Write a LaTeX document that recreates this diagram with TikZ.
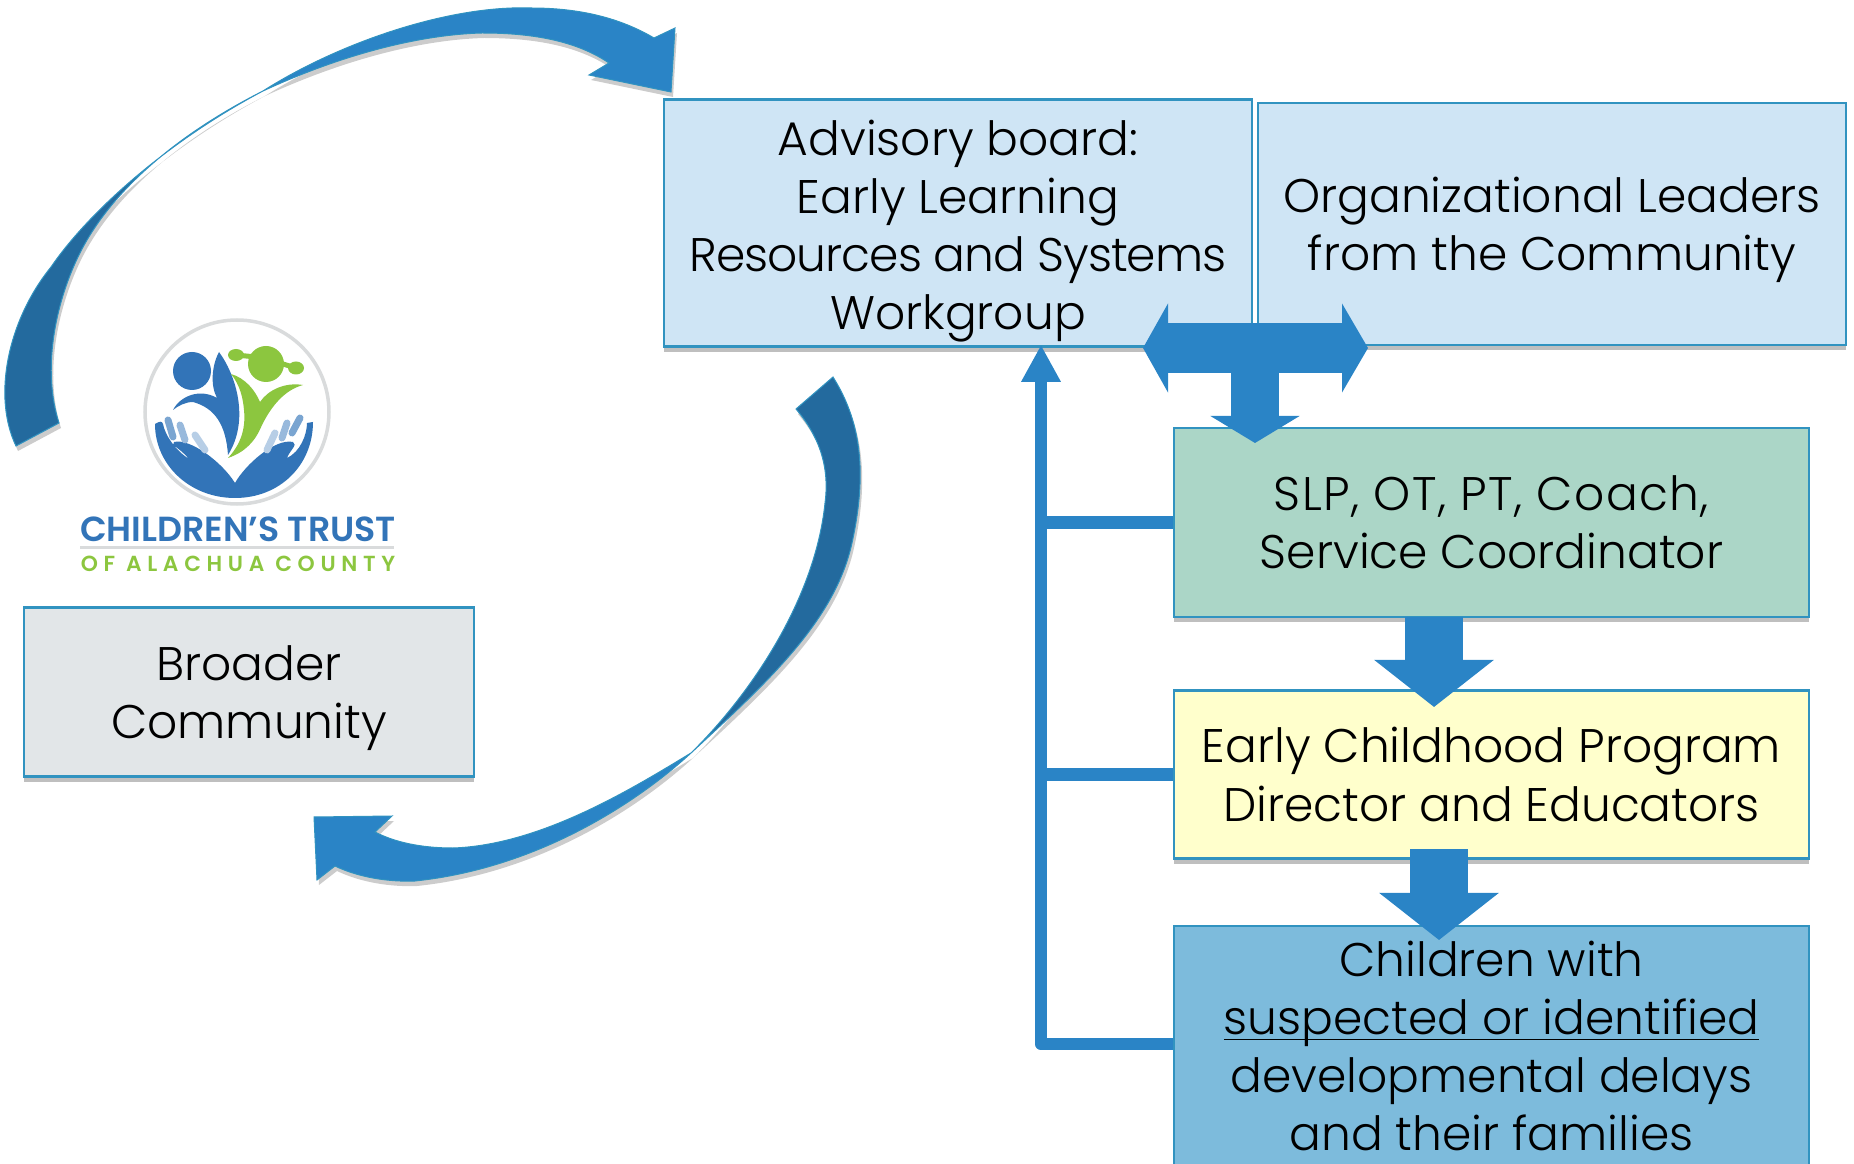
\documentclass[tikz,border=0pt]{standalone}
\usepackage{fontspec}
\setmainfont{Poppins Light}
\newfontfamily\logofont{Poppins}[UprightFont=* SemiBold]
\usetikzlibrary{arrows.meta,shadows}
\definecolor{barblue}{HTML}{2A84C6}
\definecolor{taildark}{HTML}{236A9E}
\definecolor{rimblue}{HTML}{3193C0}
\definecolor{logoblue}{HTML}{3274B8}
\definecolor{logogreen}{HTML}{8CC63F}
\definecolor{logogrey}{HTML}{D9DBDC}
\definecolor{board}{HTML}{CFE5F5}
\definecolor{slp}{HTML}{ABD6C7}
\definecolor{ecp}{HTML}{FFFFCC}
\definecolor{kids}{HTML}{7DBBDC}
\definecolor{broad}{HTML}{E2E6E8}
\tikzset{
  box/.style={draw=rimblue,line width=.025cm,align=center,inner sep=0pt,
    font=\fontsize{13.4}{16.5}\selectfont,
    drop shadow={shadow xshift=0cm,shadow yshift=-.05cm,opacity=.25,fill=black}},
  bus/.style={draw=barblue,line width=.125cm,line join=round},
  blockarrow/.style={draw=barblue,line width=.58cm,-{Triangle[length=.47cm,width=1.17cm,fill=barblue]}},
  curved/.style={line width=.01cm,draw=rimblue,
    drop shadow={shadow xshift=.02cm,shadow yshift=-.05cm,opacity=.2,fill=black}},
}
\begin{document}
\begin{tikzpicture}[x=.01cm,y=-.01cm]
\useasboundingbox (0,0) rectangle (1854,1164);
\clip (0,0) rectangle (1854,1164);
% upper curved arrow
\filldraw [curved,fill=barblue] (263,91) .. controls (340,42) and (450,5) .. (531,8)
  .. controls (580,8) and (620,18) .. (654,38)
  -- (675,28) -- (671,92) -- (589,75) -- (609,63)
  .. controls (575,40) and (530,33) .. (482,33)
  .. controls (410,35) and (330,60) .. (263,91) -- cycle;
\filldraw [curved,fill=taildark] (16,446) .. controls (-8,396) and (8,320) .. (51,267)
  .. controls (90,210) and (170,140) .. (263,91)
  .. controls (180,133) and (110,190) .. (78,257)
  .. controls (55,305) and (42,370) .. (59,423) -- cycle;
% lower curved arrow
\filldraw [curved,fill=barblue] (691,753) .. controls (640,800) and (540,868) .. (415,881)
  .. controls (390,882) and (360,878) .. (335,866)
  -- (317,880) -- (314,817) -- (392,816) -- (375,832)
  .. controls (400,845) and (430,848) .. (453,848)
  .. controls (540,845) and (630,790) .. (691,753) -- cycle;
\filldraw [curved,fill=taildark] (833,377) .. controls (860,420) and (868,470) .. (852,543)
  .. controls (835,620) and (770,680) .. (691,753)
  .. controls (750,695) and (815,600) .. (825,503)
  .. controls (830,465) and (818,435) .. (796,409) -- cycle;
% logo
\draw [logogrey,line width=.035cm,fill=white] (237,412) circle [radius=92];
\fill [logoblue] (192,371) circle [radius=19];
\fill [logoblue] (219,352) .. controls (236,375) and (250,420) .. (228,455)
  .. controls (226,425) and (215,408) .. (193,402) .. controls (185,402) and (178,406) .. (173,410)
  .. controls (180,396) and (200,388) .. (217,398) .. controls (210,385) and (212,365) .. (219,352) -- cycle;
\fill [logogreen] (266,364) circle [radius=18];
\fill [logogreen] (236,355) ellipse [x radius=8,y radius=6];
\fill [logogreen] (296,368) ellipse [x radius=8,y radius=6.5];
\draw [logogreen,line width=.05cm] (236,355) -- (266,358);
\draw [logogreen,line width=.05cm] (296,368) -- (270,360);
\fill [logogreen] (231,374) .. controls (245,378) and (255,390) .. (260,402)
  .. controls (268,390) and (285,382) .. (303,385) .. controls (285,390) and (272,405) .. (262,425)
  .. controls (255,442) and (245,452) .. (228,458) .. controls (240,445) and (246,430) .. (244,410)
  .. controls (243,398) and (240,385) .. (231,374) -- cycle;
\fill [logoblue] (155,424) .. controls (160,421) and (162,421) .. (163,424)
  .. controls (165,435) and (175,450) .. (189,459) .. controls (180,448) and (170,445) .. (174,442)
  .. controls (190,438) and (222,462) .. (235,483) .. controls (245,465) and (275,438) .. (293,442)
  .. controls (298,445) and (290,450) .. (287,458) .. controls (300,452) and (307,435) .. (307,423)
  -- (313,422) .. controls (313,465) and (280,498) .. (235,498) .. controls (190,498) and (155,465) .. (155,424) -- cycle;
\foreach \xa/\ya/\xb/\yb/\shade in {168/420/173/437/65,180/425/185/440/50,195/435/205/450/35,300/418/292/433/65,287/423/282/438/50,275/433/267/450/35}
  \draw [logoblue!\shade!white,line width=.07cm,line cap=round] (\xa,\ya) -- (\xb,\yb);
\node [logoblue,inner sep=0pt,font=\logofont\fontsize{9.9}{10}\selectfont] (trust) at (238,529) {CHILDREN’S TRUST};
\draw [logogrey,line width=.03cm] (80,548) -- (394,548);
\node [logogreen,inner sep=0pt,font=\logofont\fontsize{6.2}{7}\selectfont] (county) at (238,564)
  {\addfontfeature{LetterSpace=26}OF ALACHUA COUNTY};
% boxes
\node [box,fill=broad,minimum width=4.5cm,minimum height=1.69cm] (broader) at (249,692) {\rule{0pt}{.48cm}Broader\\Community};
\node [box,fill=board,minimum width=5.88cm,minimum height=2.47cm] (board) at (958,223) {\rule{0pt}{.51cm}Advisory board:\\Early Learning\\{\addfontfeature{LetterSpace=-2.1}Resources and Systems}\\Workgroup};
\node [box,fill=board,minimum width=5.88cm,minimum height=2.42cm] (leaders) at (1552,224) {\rule{0pt}{.48cm}Organizational Leaders\\from the Community};
\node [box,fill=slp,minimum width=6.35cm,minimum height=1.89cm] (slp) at (1491.5,522.5) {{\addfontfeature{LetterSpace=2.9}SLP, OT, PT, Coach,}\\Service Coordinator};
\node [box,fill=ecp,minimum width=6.35cm,minimum height=1.68cm] (ecp) at (1491.5,774.5) {Early Childhood Program\\Director and Educators};
\node [box,fill=kids,minimum width=6.35cm,minimum height=2.4cm] (kids) at (1491.5,1046) {Children with\\\underline{\smash{suspected or identified}}\\developmental delays\\and their families};
% left feedback line
\coordinate (busbot) at (1041,1044);
\draw [bus,shorten >=-.03cm,-{Triangle[length=.37cm,width=.37cm,fill=barblue]}] (busbot -| kids.west) -- (busbot) -- (board.south -| busbot);
\draw [bus] (slp.west) -- (slp.west -| busbot);
\draw [bus] (ecp.west) -- (ecp.west -| busbot);
% block arrows
\coordinate (stemtop) at (1255,348);
\draw [draw=barblue,line width=.49cm,{Triangle[length=.25cm,width=.88cm,fill=barblue]}-{Triangle[length=.26cm,width=.88cm,fill=barblue]}] (1143,348) -- (1368,348);
\draw [draw=barblue,line width=.48cm,-{Triangle[length=.27cm,width=.88cm,fill=barblue]}] (stemtop) -- (1255,443);
\draw [blockarrow] (1434,617) -- (1434,707);
\draw [blockarrow] (1439,849) -- (1439,940);
\end{tikzpicture}
\end{document}
